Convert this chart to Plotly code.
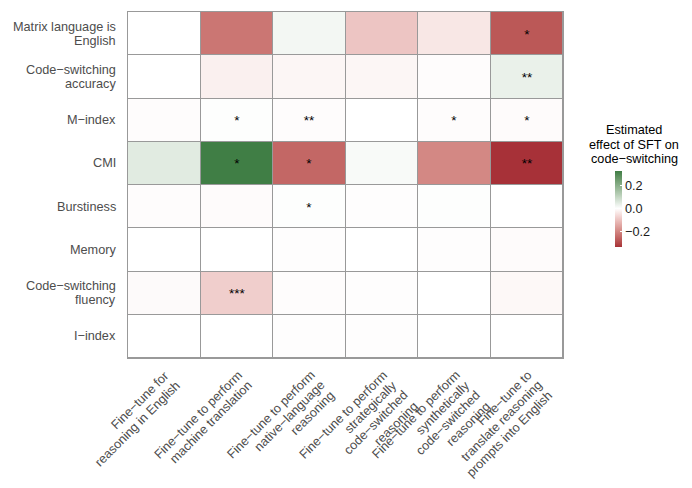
import plotly.graph_objects as go
import numpy as np

M = "\u2212"
row_labels = [
    ["Matrix language is", "English"],
    [f"Code{M}switching", "accuracy"],
    [f"M{M}index"],
    ["CMI"],
    ["Burstiness"],
    ["Memory"],
    [f"Code{M}switching", "fluency"],
    [f"I{M}index"],
]
col_labels = [
    [f"Fine{M}tune for", "reasoning in English"],
    [f"Fine{M}tune to perform", "machine translation"],
    [f"Fine{M}tune to perform", f"native{M}language", "reasoning"],
    [f"Fine{M}tune to perform", "strategically", f"code{M}switched", "reasoning"],
    [f"Fine{M}tune to perform", "synthetically", f"code{M}switched", "reasoning"],
    [f"Fine{M}tune to", "translate reasoning", "prompts into English"],
]

effects = [
    [0.0, -0.23, 0.02, -0.095, -0.04, -0.28],
    [0.0, -0.025, -0.015, -0.015, -0.005, 0.035],
    [-0.005, 0.003, -0.005, 0.0, -0.005, -0.006],
    [0.05, 0.33, -0.255, 0.012, -0.2, -0.34],
    [-0.005, -0.006, 0.003, -0.003, 0.003, 0.0],
    [0.0, 0.0, -0.003, 0.0, -0.003, -0.006],
    [-0.008, -0.08, -0.005, -0.003, 0.0, -0.012],
    [0.0, 0.0, -0.003, -0.003, 0.0, 0.0],
]
stars = [
    ["", "", "", "", "", "*"],
    ["", "", "", "", "", "**"],
    ["", "*", "**", "", "*", "*"],
    ["", "*", "*", "", "", "**"],
    ["", "", "*", "", "", ""],
    ["", "", "", "", "", ""],
    ["", "***", "", "", "", ""],
    ["", "", "", "", "", ""],
]
legend_title = ["Estimated", "effect of SFT on", f"code{M}switching"]
cbar_ticks = [-0.2, 0.0, 0.2]
cbar_ticktext = [f"{M}0.2", "0.0", "0.2"]

ZMIN, ZMAX = -0.34, 0.33
LIM = 0.34
LOW = (167, 49, 56)
HIGH = (58, 122, 64)
WHITE = (255, 255, 255)


def srgb_to_lin(c):
    c = c / 255.0
    return np.where(c <= 0.04045, c / 12.92, ((c + 0.055) / 1.055) ** 2.4)


def lin_to_srgb(c):
    c = np.clip(c, 0, 1)
    return 255 * np.where(c <= 0.0031308, 12.92 * c, 1.055 * c ** (1 / 2.4) - 0.055)


MAT = np.array([[0.4124, 0.3576, 0.1805], [0.2126, 0.7152, 0.0722], [0.0193, 0.1192, 0.9505]])
WP = np.array([0.95047, 1.0, 1.08883])


def rgb_to_lab(rgb):
    xyz = MAT @ srgb_to_lin(np.array(rgb, float)) / WP
    f = np.where(xyz > 0.008856, np.cbrt(xyz), 7.787 * xyz + 16 / 116)
    return np.array([116 * f[1] - 16, 500 * (f[0] - f[1]), 200 * (f[1] - f[2])])


def lab_to_rgb(lab):
    fy = (lab[0] + 16) / 116
    fx = fy + lab[1] / 500
    fz = fy - lab[2] / 200
    f = np.array([fx, fy, fz])
    xyz = np.where(f ** 3 > 0.008856, f ** 3, (f - 16 / 116) / 7.787) * WP
    lin = np.linalg.solve(MAT, xyz)
    return lin_to_srgb(lin)


LW, LL, LH = rgb_to_lab(WHITE), rgb_to_lab(LOW), rgb_to_lab(HIGH)
colorscale = []
vals = sorted(set(list(np.linspace(ZMIN, ZMAX, 41)) + [0.0]))
for v in vals:
    p = (v - ZMIN) / (ZMAX - ZMIN)
    if v < 0:
        t = min(-v / LIM, 1)
        lab = LW + (LL - LW) * t
    else:
        t = min(v / LIM, 1)
        lab = LW + (LH - LW) * t
    r, g, b = lab_to_rgb(lab)
    colorscale.append([float(np.clip(p, 0, 1)), f"rgb({int(round(r))},{int(round(g))},{int(round(b))})"])
colorscale[0][0] = 0.0
colorscale[-1][0] = 1.0

FONT = "Liberation Sans, Arial, Helvetica, sans-serif"
FS = 12.7
AXCOL = "#4d4d4d"

# layout geometry (pixels)
L, R, T, B = 128, 129, 12, 130
W, H = 692, 488
PW, PH = W - L - R, H - T - B

ncol = len(col_labels)
nrow = len(row_labels)

fig = go.Figure(
    go.Heatmap(
        z=effects,
        x=list(range(ncol)),
        y=list(range(nrow)),
        text=stars,
        texttemplate="%{text}",
        textfont=dict(family=FONT, size=13.5, color="black"),
        colorscale=colorscale,
        zmin=ZMIN,
        zmax=ZMAX,
        xgap=1,
        ygap=1,
        hoverinfo="skip",
        colorbar=dict(
            x=(615 - L) / PW,
            xanchor="left",
            y=(H - B - 209) / PH,
            yanchor="middle",
            len=76,
            lenmode="pixels",
            thickness=7,
            thicknessmode="pixels",
            outlinewidth=0,
            tickvals=cbar_ticks,
            ticktext=cbar_ticktext,
            ticks="inside",
            ticklen=2,
            tickcolor="white",
            tickfont=dict(family=FONT, size=FS, color="#1a1a1a"),
            xpad=0,
            ypad=0,
        ),
    )
)

annotations = []
# y-axis labels, one annotation per line
LH_Y = 14.0
for i, lines in enumerate(row_labels):
    n = len(lines)
    for k, line in enumerate(lines):
        annotations.append(dict(
            text=line, xref="paper", yref="y", x=(116 - L) / PW, y=i,
            xanchor="right", yanchor="middle", showarrow=False,
            yshift=-((k - (n - 1) / 2) * LH_Y),
            font=dict(family=FONT, size=FS, color=AXCOL),
            borderpad=0, borderwidth=0,
        ))

# x-axis labels rotated 45 deg, right aligned, one annotation per line
LH_X = 14.5
BOXH = 14.2
s2 = np.sqrt(2)
for j, lines in enumerate(col_labels):
    for k, line in enumerate(lines):
        annotations.append(dict(
            text=line, xref="x", yref="paper", x=j, y=0,
            xanchor="right", yanchor="top", showarrow=False, textangle=-45,
            xshift=-2 + k * LH_X / s2 + BOXH / s2,
            yshift=-(10 + k * LH_X / s2),
            font=dict(family=FONT, size=FS, color=AXCOL),
            borderpad=0, borderwidth=0,
        ))

# legend title
for k, line in enumerate(legend_title):
    annotations.append(dict(
        text=line, xref="paper", yref="paper", x=(634 - L) / PW,
        y=(H - B - (130 + k * 14.5)) / PH,
        xanchor="center", yanchor="middle", showarrow=False,
        font=dict(family=FONT, size=FS, color="black"),
        borderpad=0, borderwidth=0,
    ))

fig.update_layout(
    width=W,
    height=H,
    margin=dict(l=L, r=R, t=T, b=B, autoexpand=False),
    paper_bgcolor="white",
    plot_bgcolor="#999999",
    font=dict(family=FONT, size=FS, color=AXCOL),
    annotations=annotations,
    xaxis=dict(
        range=[-0.5, ncol - 0.5],
        showticklabels=False,
        showgrid=False,
        zeroline=False,
        ticks="",
        showline=True,
        mirror=True,
        linecolor="#999999",
        linewidth=1,
        automargin=False,
    ),
    yaxis=dict(
        range=[nrow - 0.5, -0.5],
        showticklabels=False,
        showgrid=False,
        zeroline=False,
        ticks="",
        showline=True,
        mirror=True,
        linecolor="#999999",
        linewidth=1,
        automargin=False,
    ),
)

fig.write_html("out.html")
